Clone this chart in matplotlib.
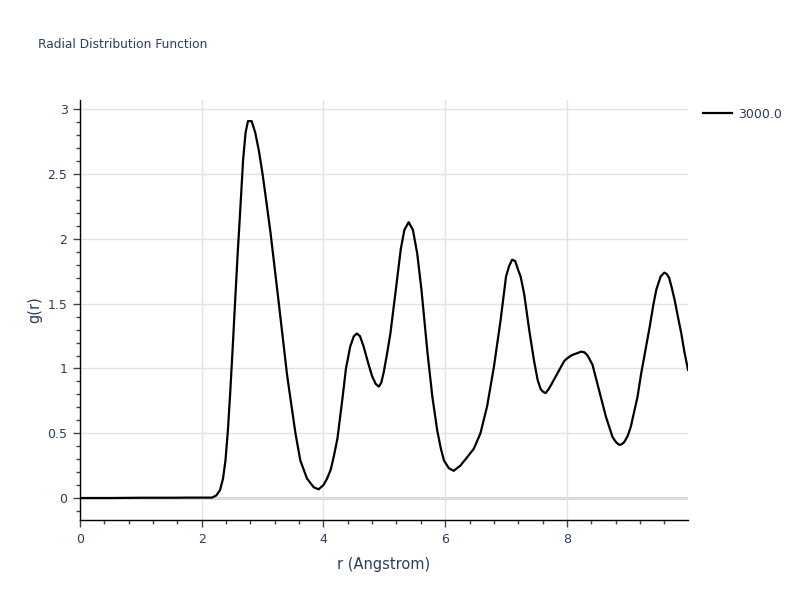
import matplotlib
matplotlib.use("Agg")
import matplotlib.pyplot as plt
from matplotlib.ticker import MultipleLocator, FuncFormatter

plt.rcParams['font.family'] = ['DejaVu Sans']

title = "Radial Distribution Function"
x_label = "r (Angstrom)"
y_label = "g(r)"
series_name = "3000.0"

r = [0.0, 0.5, 1.0, 1.5, 1.8, 2.0, 2.17, 2.24, 2.30, 2.35, 2.39, 2.43, 2.47, 2.51, 2.55,
     2.59, 2.63, 2.68, 2.72, 2.76, 2.82, 2.88, 2.94, 3.00, 3.05, 3.13, 3.26, 3.40, 3.46,
     3.54, 3.62, 3.73, 3.84, 3.92, 4.00, 4.06, 4.12, 4.17, 4.23, 4.31, 4.37, 4.44, 4.50,
     4.55, 4.60, 4.66, 4.73, 4.80, 4.86, 4.91, 4.95, 4.99, 5.04, 5.10, 5.19, 5.27, 5.33,
     5.40, 5.47, 5.54, 5.61, 5.71, 5.79, 5.87, 5.93, 5.98, 6.06, 6.14, 6.25, 6.37, 6.47,
     6.58, 6.69, 6.80, 6.91, 7.00, 7.05, 7.10, 7.15, 7.20, 7.24, 7.30, 7.38, 7.46, 7.52,
     7.57, 7.61, 7.65, 7.70, 7.76, 7.83, 7.90, 7.96, 8.01, 8.07, 8.12, 8.18, 8.23, 8.29,
     8.34, 8.42, 8.53, 8.64, 8.75, 8.81, 8.86, 8.90, 8.94, 9.00, 9.05, 9.16, 9.22, 9.29,
     9.36, 9.42, 9.47, 9.54, 9.60, 9.64, 9.68, 9.72, 9.77, 9.82, 9.88, 9.93, 9.99]
g = [0.0, 0.0, 0.002, 0.002, 0.003, 0.003, 0.003, 0.02, 0.06, 0.15, 0.29, 0.52, 0.83, 1.17, 1.53,
     1.88, 2.20, 2.61, 2.82, 2.91, 2.91, 2.82, 2.68, 2.50, 2.33, 2.05, 1.53, 0.96, 0.76,
     0.50, 0.29, 0.15, 0.083, 0.067, 0.10, 0.15, 0.22, 0.32, 0.46, 0.76, 1.00, 1.17, 1.25,
     1.27, 1.25, 1.17, 1.05, 0.94, 0.88, 0.86, 0.89, 0.97, 1.10, 1.27, 1.61, 1.92, 2.07,
     2.13, 2.07, 1.89, 1.61, 1.12, 0.78, 0.52, 0.38, 0.29, 0.23, 0.21, 0.25, 0.32, 0.38,
     0.50, 0.71, 1.01, 1.37, 1.71, 1.79, 1.84, 1.83, 1.76, 1.71, 1.57, 1.30, 1.06, 0.91,
     0.84, 0.82, 0.81, 0.84, 0.89, 0.95, 1.01, 1.06, 1.08, 1.10, 1.11, 1.12, 1.13, 1.125,
     1.10, 1.03, 0.83, 0.63, 0.47, 0.43, 0.41, 0.415, 0.43, 0.48, 0.55, 0.78, 0.96, 1.14,
     1.32, 1.49, 1.61, 1.71, 1.74, 1.73, 1.70, 1.63, 1.53, 1.41, 1.27, 1.13, 0.99]

text_color = "#2a3f5f"

fig = plt.figure(figsize=(8, 6), dpi=100)
ax = fig.add_axes([0.1, 0.1333, 0.76, 0.7])

ax.plot(r, g, color="black", linewidth=1.6, label=series_name, zorder=3,
        solid_joinstyle="round")

ax.set_xlim(0, 9.99)
ax.set_ylim(-0.17, 3.073)

ax.xaxis.set_major_locator(MultipleLocator(2))
ax.xaxis.set_minor_locator(MultipleLocator(0.4))
ax.yaxis.set_major_locator(MultipleLocator(0.5))
ax.yaxis.set_minor_locator(MultipleLocator(0.1))
ax.yaxis.set_major_formatter(FuncFormatter(lambda v, p: "%g" % round(v, 2)))
ax.xaxis.set_major_formatter(FuncFormatter(lambda v, p: "%g" % round(v, 2)))

ax.grid(True, which="major", color="#e2e2e2", linewidth=1.0, zorder=0)
ax.axhline(0, color="#d0d0d0", linewidth=2.0, zorder=1)

for s in ["top", "right"]:
    ax.spines[s].set_visible(False)
for s in ["left", "bottom"]:
    ax.spines[s].set_color("black")
    ax.spines[s].set_linewidth(1.0)

ax.tick_params(axis="both", which="major", direction="out", length=5, width=1,
               color="#444444", labelcolor=text_color, labelsize=9, pad=4)
ax.tick_params(axis="both", which="minor", direction="out", length=3, width=1,
               color="#444444")

ax.set_xlabel(x_label, color=text_color, fontsize=10.5, labelpad=8)
ax.set_ylabel(y_label, color=text_color, fontsize=10.5, labelpad=4)

fig.text(0.048, 0.925, title, color=text_color, fontsize=8.8, ha="left", va="center")

leg = ax.legend(loc="upper left", bbox_to_anchor=(1.013, 1.0), frameon=False,
                fontsize=9, handlelength=2.3, handletextpad=0.5, borderaxespad=0.2)
for t in leg.get_texts():
    t.set_color(text_color)

fig.savefig("out.png", dpi=100)
